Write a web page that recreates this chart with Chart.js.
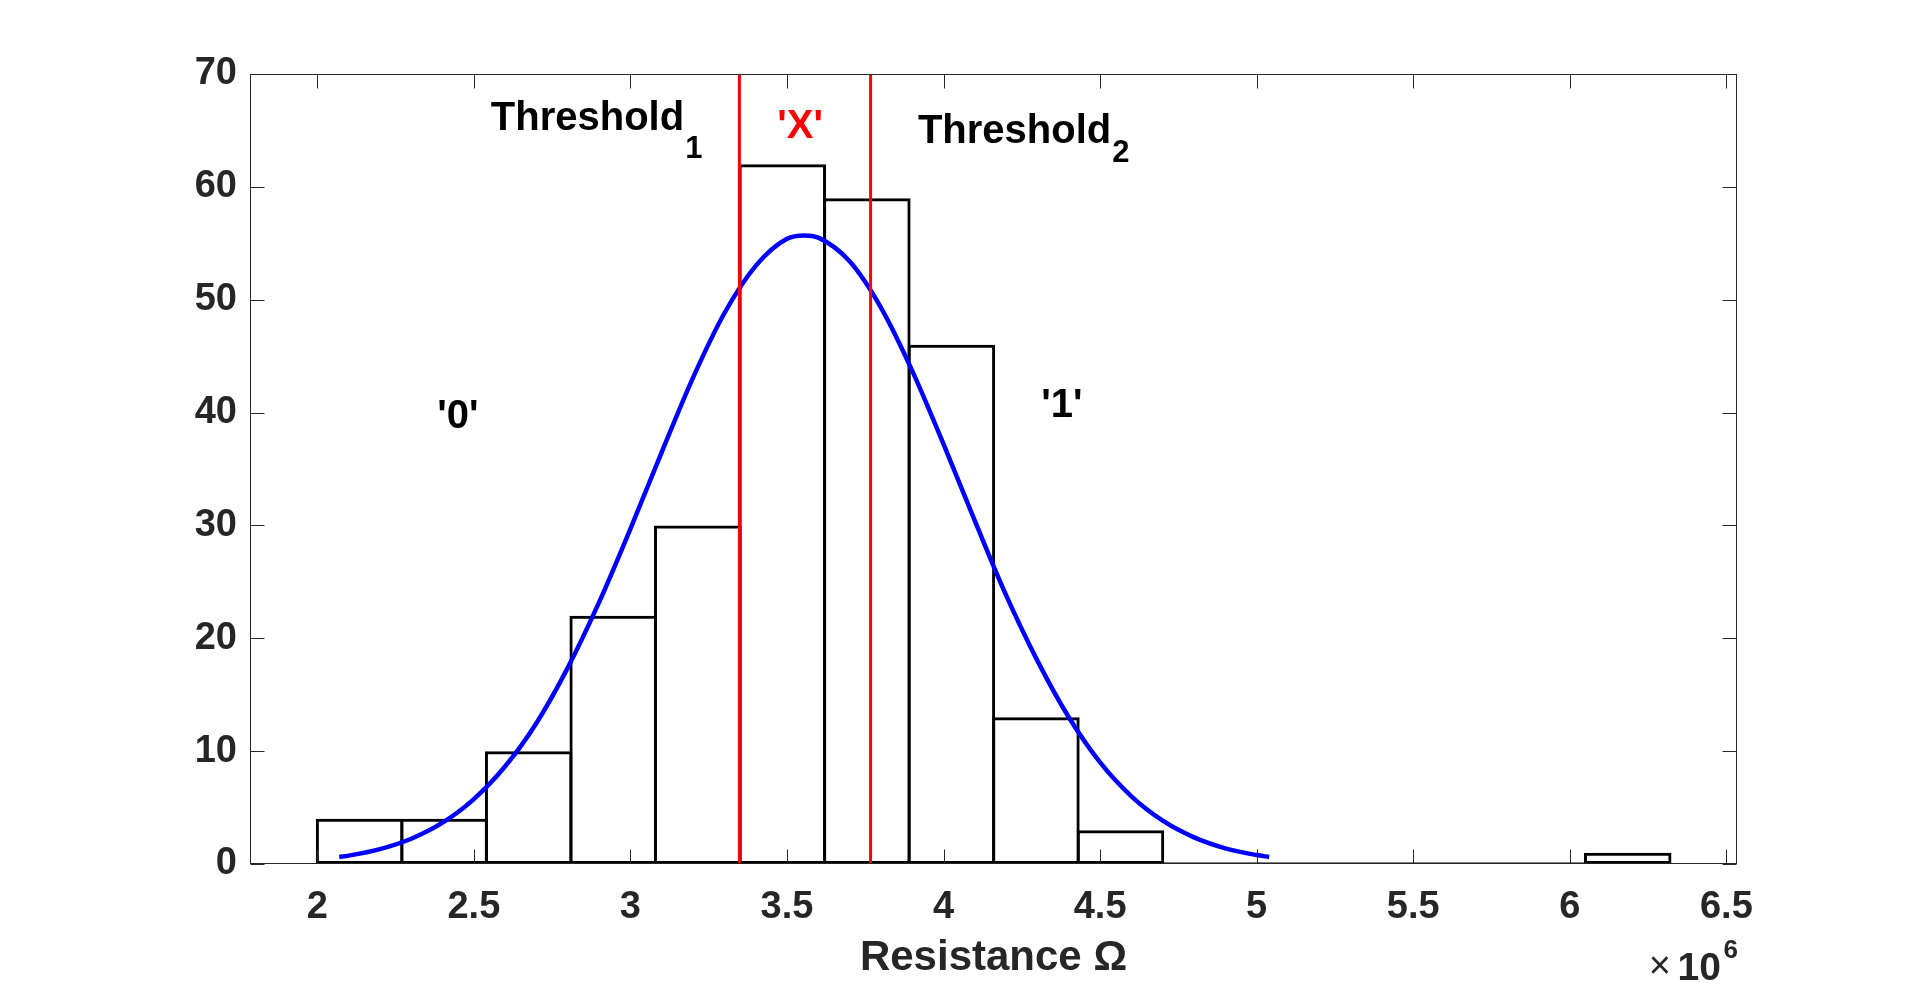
<!DOCTYPE html>
<html>
<head>
<meta charset="utf-8">
<script src="https://cdn.jsdelivr.net/npm/chart.js@4.4.1/dist/chart.umd.min.js"></script>
<style>
  html, body { margin: 0; padding: 0; background: #fff; }
  #wrap { width: 1920px; height: 989px; }
</style>
</head>
<body>
<div id="wrap"><canvas id="myChart" width="1920" height="989"></canvas></div>
<script>
// x values are in units of 1e6 ohm
const binEdges = [2.00, 2.27, 2.54, 2.81, 3.08, 3.35, 3.62, 3.89, 4.16, 4.43, 4.70, 4.97, 5.24, 5.51, 5.78, 6.05, 6.32];
const binCounts = [4, 4, 10, 22, 30, 62, 59, 46, 13, 3, 0, 0, 0, 0, 0, 1];

// fitted normal curve (blue)
const curveX = [2.07, 2.1, 2.2, 2.3, 2.4, 2.5, 2.6, 2.7, 2.8, 2.9, 3.0, 3.1, 3.2, 3.3, 3.4, 3.5, 3.555,
                3.6, 3.7, 3.8, 3.9, 4.0, 4.1, 4.2, 4.3, 4.4, 4.5, 4.6, 4.7, 4.8, 4.9, 5.0, 5.04];
const curveY = [0.62, 0.74, 1.32, 2.24, 3.66, 5.75, 8.66, 12.5, 17.4, 23.2, 29.7, 36.5, 43.1, 48.8, 53.0, 55.4, 55.7,
                55.5, 53.4, 49.3, 43.7, 37.2, 30.4, 23.8, 18.0, 13.0, 9.0, 6.0, 3.84, 2.36, 1.39, 0.79, 0.62];

const thresholds = [3.348, 3.767];

const xTicks = [2, 2.5, 3, 3.5, 4, 4.5, 5, 5.5, 6, 6.5];
const yTicks = [0, 10, 20, 30, 40, 50, 60, 70];

const FONT = "'Liberation Sans', Arial, Helvetica, sans-serif";
const AXIS_COL = '#262626';

// text put on the plot (data coords for x, y)
const notes = [
  { text: 'Threshold', sub: '1', x: 2.554, y: 65.0, subDy: 28, color: '#000' },
  { text: "'X'", x: 3.542, y: 64.35, align: 'center', color: '#ff0000' },
  { text: 'Threshold', sub: '2', x: 3.918, y: 63.9, subDy: 19, color: '#000' },
  { text: "'0'", x: 2.449, y: 38.66, align: 'center', color: '#000' },
  { text: "'1'", x: 4.378, y: 39.6, align: 'center', color: '#000' }
];

const boxPlugin = {
  id: 'box',
  afterDatasetsDraw(chart) {
    const ctx = chart.ctx;
    const a = chart.chartArea;
    const xs = chart.scales.x, ys = chart.scales.y;
    ctx.save();
    ctx.strokeStyle = AXIS_COL;
    ctx.lineWidth = 1;
    const L = Math.round(a.left) + 0.5, R = Math.round(a.right) - 0.5;
    const T = Math.round(a.top) + 0.5, B = Math.round(a.bottom) - 0.5;
    ctx.strokeRect(L, T, R - L, B - T);
    ctx.beginPath();
    xTicks.forEach(v => {
      const p = Math.round(xs.getPixelForValue(v)) + 0.5;
      ctx.moveTo(p, B); ctx.lineTo(p, B - 14);
      ctx.moveTo(p, T); ctx.lineTo(p, T + 14);
    });
    yTicks.forEach(v => {
      const p = Math.round(ys.getPixelForValue(v)) + 0.5;
      ctx.moveTo(L, p); ctx.lineTo(L + 14, p);
      ctx.moveTo(R, p); ctx.lineTo(R - 14, p);
    });
    ctx.stroke();

    // annotations
    ctx.textBaseline = 'alphabetic';
    notes.forEach(n => {
      const px = xs.getPixelForValue(n.x), py = ys.getPixelForValue(n.y);
      ctx.fillStyle = n.color;
      ctx.font = 'bold 40px ' + FONT;
      ctx.textAlign = n.align || 'left';
      ctx.fillText(n.text, px, py);
      if (n.sub) {
        const w = ctx.measureText(n.text).width;
        ctx.font = 'bold 31px ' + FONT;
        ctx.textAlign = 'left';
        ctx.fillText(n.sub, px + w + 1, py + n.subDy);
      }
    });

    // exponent label x10^6
    ctx.fillStyle = AXIS_COL;
    ctx.textAlign = 'right';
    ctx.font = 'bold 26px ' + FONT;
    ctx.fillText('6', a.right + 1, 958);
    ctx.font = 'bold 39px ' + FONT;
    ctx.fillText('10', a.right - 16, 980);
    ctx.font = '38px ' + FONT;
    ctx.textBaseline = 'middle';
    ctx.fillText('\u00d7', a.right - 66, 968);
    ctx.restore();
  }
};

const ctx = document.getElementById('myChart');

const chart = new Chart(ctx, {
  type: 'bar',
  data: {
    datasets: [
      {
        type: 'line',
        label: 'fit',
        data: curveX.map((x, i) => ({ x: x, y: curveY[i] })),
        borderColor: '#0000ff',
        borderWidth: 4.5,
        pointRadius: 0,
        cubicInterpolationMode: 'monotone',
        order: 2
      },
      {
        type: 'line',
        label: 'threshold 1',
        data: [{ x: thresholds[0], y: 0 }, { x: thresholds[0], y: 70 }],
        borderColor: '#ff0000',
        borderWidth: 3,
        pointRadius: 0,
        order: 1
      },
      {
        type: 'line',
        label: 'threshold 2',
        data: [{ x: thresholds[1], y: 0 }, { x: thresholds[1], y: 70 }],
        borderColor: '#ff0000',
        borderWidth: 3,
        pointRadius: 0,
        order: 1
      },
      {
        type: 'line',
        label: 'bin base',
        data: [{ x: binEdges[0], y: 0 }, { x: binEdges[binEdges.length - 1], y: 0 }],
        borderColor: '#000',
        borderWidth: 3,
        pointRadius: 0,
        order: 3
      },
      {
        type: 'bar',
        label: 'counts',
        data: binCounts.map((c, i) => ({ x: (binEdges[i] + binEdges[i + 1]) / 2, y: c })),
        backgroundColor: 'rgba(0,0,0,0)',
        borderColor: '#000',
        borderWidth: 3,
        borderSkipped: false,
        categoryPercentage: 1,
        barPercentage: 1.035,
        order: 4
      }
    ]
  },
  options: {
    responsive: false,
    devicePixelRatio: 1,
    animation: false,
    layout: { padding: { top: 74, right: 183, bottom: 0, left: 0 } },
    plugins: {
      legend: { display: false },
      tooltip: { enabled: false }
    },
    scales: {
      x: {
        type: 'linear',
        offset: false,
        min: 1.785,
        max: 6.534,
        grid: { display: false, drawTicks: false, offset: false },
        border: { display: false },
        afterBuildTicks: s => { s.ticks = xTicks.map(v => ({ value: v })); },
        afterFit: s => { s.height = 125; },
        ticks: {
          autoSkip: false,
          maxRotation: 0,
          padding: 21,
          color: AXIS_COL,
          font: { family: FONT, size: 38, weight: 'bold' },
          callback: v => String(v)
        },
        title: {
          display: true,
          text: 'Resistance \u03a9',
          color: AXIS_COL,
          font: { family: FONT, size: 42, weight: 'bold' },
          padding: { top: 0, bottom: 5 }
        }
      },
      y: {
        min: 0,
        max: 70,
        grid: { display: false, drawTicks: false },
        border: { display: false },
        afterBuildTicks: s => { s.ticks = yTicks.map(v => ({ value: v })); },
        afterFit: s => { s.width = 250; },
        ticks: {
          padding: 13,
          color: AXIS_COL,
          font: { family: FONT, size: 38, weight: 'bold' }
        }
      }
    }
  },
  plugins: [boxPlugin]
});
</script>
</body>
</html>
